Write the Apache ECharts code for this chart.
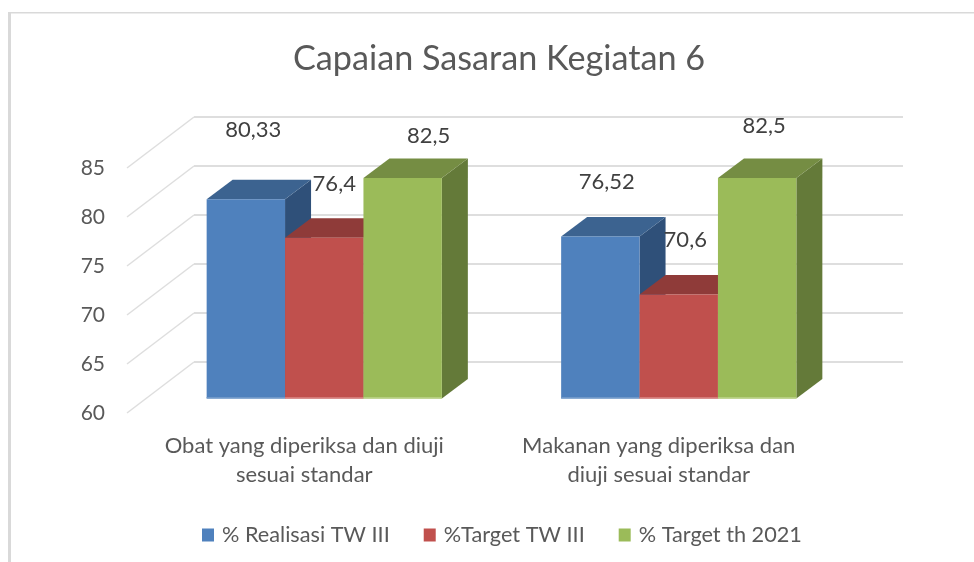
<!DOCTYPE html>
<html><head><meta charset="utf-8">
<style>html,body{margin:0;padding:0;background:#fff}#c{width:974px;height:562px}</style>
<script src="https://cdn.jsdelivr.net/npm/echarts@6/dist/echarts.min.js"></script>
</head><body><div id="c"></div>
<script>
const categories = ["Obat yang diperiksa dan diuji\nsesuai standar", "Makanan yang diperiksa dan\ndiuji sesuai standar"];
const seriesNames = ["% Realisasi TW III", "%Target TW III", "% Target th 2021"];
const realisasi = [80.33, 76.52];
const targetTw = [76.4, 70.6];
const target2021 = [82.5, 82.5];
const yTicks = [60, 65, 70, 75, 80, 85];

const FONT = 'Lato';
const TEXT = '#595959';
const GRID = '#DEDEDE';
const faces = [
  {front:'#4F81BD', top:'#3C6390', side:'#2F5079', edge:'#7098C8'},
  {front:'#C0504D', top:'#8F3B39', side:'#7A302E', edge:'#D47A78'},
  {front:'#9BBB59', top:'#758D43', side:'#647A39', edge:'#B5CE80'}
];
const labelNudge = [
  [[7.5,-69],[6.5,-55]],
  [[10,-54],[6.5,-55]],
  [[26,-42],[7,-52]]
];
const WALL = [67,-51], BAR_SHIFT = [20,-14.5], BAR_DEPTH = [26,-19.5], BAR_W = 78.4;

function barItem(si){
  return function(params, api){
    const cat = api.value(0), val = api.value(1);
    const c = api.coord([cat, val]), b = api.coord([cat, 60]);
    const cx = c[0] + BAR_SHIFT[0] + (si-1)*BAR_W;
    const x0 = cx - BAR_W/2, x1 = cx + BAR_W/2;
    const yt = c[1] + BAR_SHIFT[1], yb = b[1] + BAR_SHIFT[1];
    const dx = BAR_DEPTH[0], dy = BAR_DEPTH[1], f = faces[si], n = labelNudge[si][cat];
    return {type:'group', children:[
      {type:'polygon', shape:{points:[[x1,yt],[x1+dx,yt+dy],[x1+dx,yb+dy],[x1,yb]]}, style:{fill:f.side}},
      {type:'polygon', shape:{points:[[x0,yt],[x0+dx,yt+dy],[x1+dx,yt+dy],[x1,yt]]}, style:{fill:f.top}},
      {type:'rect', shape:{x:x0,y:yt,width:BAR_W,height:yb-yt}, style:{fill:f.front}},
      {type:'rect', shape:{x:x0,y:yb-1.5,width:BAR_W,height:1.5}, style:{fill:f.edge}},
      {type:'text', z2:100, style:{x:cx+n[0], y:yt+n[1], text:String(val).replace('.',','),
        fill:'#404040', font:'22px '+FONT, align:'center', verticalAlign:'middle'}}
    ]};
  };
}
const barSeries = [realisasi, targetTw, target2021].map((vals,si)=>({
  type:'custom', name:seriesNames[si], xAxisIndex:1, yAxisIndex:1, z:3+si,
  itemStyle:{color:faces[si].front}, silent:true, animation:false,
  encode:{x:0,y:1},
  data:vals.map((v,i)=>[i,v]),
  renderItem:barItem(si)
}));
const wallSeries = {
  type:'custom', xAxisIndex:1, yAxisIndex:1, z:2, silent:true, animation:false,
  data:yTicks.map(t=>[0,t]), encode:{y:1},
  renderItem(params, api){
    const y = api.coord([0, api.value(1)])[1];
    const x = params.coordSys.x;
    return {type:'line', shape:{x1:x,y1:y,x2:x+WALL[0],y2:y+WALL[1]}, style:{stroke:GRID,lineWidth:1.5,fill:null}};
  }
};
const yAxisBase = {type:'value', min:60, max:85, interval:5, axisLine:{show:false}, axisTick:{show:false}};

const chart = echarts.init(document.getElementById('c'), null, {renderer:'canvas'});
chart.setOption({
  animation:false,
  backgroundColor:'#fff',
  title:{text:'Capaian Sasaran Kegiatan 6', left:288, top:37, textStyle:{fontFamily:FONT,fontSize:34.2,fontWeight:'normal',color:TEXT}},
  legend:{data:seriesNames, left:197, top:519, itemWidth:12, itemHeight:13, itemGap:34, icon:'rect',
    textStyle:{fontFamily:FONT,fontSize:21.7,color:TEXT,padding:[0,0,0,3]}, selectedMode:false},
  grid:[
    {left:194, width:709, top:117, height:245},
    {left:127, width:709, top:168, height:245}
  ],
  xAxis:[
    {gridIndex:0, type:'category', data:categories, show:false},
    {gridIndex:1, type:'category', data:categories, axisLine:{show:false}, axisTick:{show:false},
      axisLabel:{interval:0, hideOverlap:false, margin:18, lineHeight:29, fontFamily:FONT, fontSize:22, color:TEXT}}
  ],
  yAxis:[
    Object.assign({gridIndex:0, axisLabel:{show:false}, splitLine:{lineStyle:{color:GRID,width:2}}}, yAxisBase),
    Object.assign({gridIndex:1, splitLine:{show:false},
      axisLabel:{margin:22, fontFamily:FONT, fontSize:21, color:TEXT, padding:[5,0,0,0], formatter:v=>String(v)}}, yAxisBase)
  ],
  graphic:[
    {type:'rect', silent:true, shape:{x:8,y:12,width:3,height:550}, style:{fill:'#D9D9D9'}},
    {type:'rect', silent:true, shape:{x:8,y:12,width:966,height:1.5}, style:{fill:'#D9D9D9'}}
  ],
  series:[wallSeries].concat(barSeries)
});
</script></body></html>
